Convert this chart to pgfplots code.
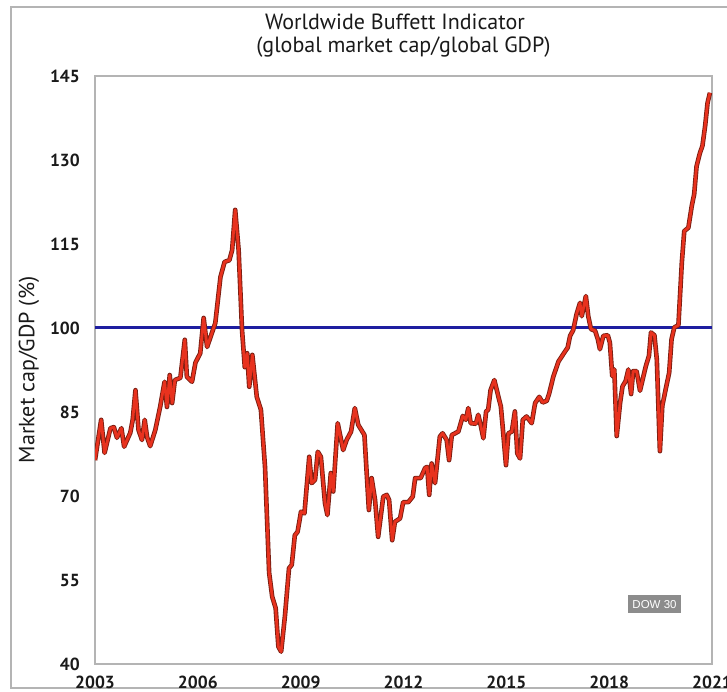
\documentclass[border=0pt]{standalone}
\usepackage{pgfplots}
\pgfplotsset{compat=1.18}
\usepackage{pgfplotstable}
\usepackage{fontspec}
\setmainfont{PT Sans}
\newfontfamily\badgefont{Liberation Sans}
\definecolor{linered}{HTML}{E8321E}
\definecolor{lineedge}{HTML}{7A1E12}
\definecolor{refblue}{HTML}{1E1EA0}
\definecolor{framegray}{HTML}{B4B4B4}
\definecolor{txt}{HTML}{1A1A1A}
\definecolor{badge}{HTML}{8C8C8C}

\pgfplotstableread{
year val
2003.00 76.4
2003.18 83.6
2003.28 77.7
2003.45 82.1
2003.55 82.3
2003.64 80.4
2003.77 82.1
2003.85 78.8
2004.03 81.3
2004.10 83.6
2004.18 88.9
2004.27 81.8
2004.37 80.0
2004.45 83.6
2004.52 80.5
2004.61 78.9
2004.76 81.8
2004.90 85.9
2005.03 90.4
2005.10 85.9
2005.18 91.6
2005.25 86.6
2005.33 90.7
2005.49 91.1
2005.62 97.9
2005.68 91.3
2005.83 90.4
2005.93 93.8
2006.07 95.5
2006.17 101.8
2006.27 96.6
2006.41 99.1
2006.51 100.9
2006.66 109.1
2006.78 111.8
2006.92 112.1
2007.00 113.9
2007.09 121.1
2007.19 113.9
2007.29 99.6
2007.37 93.0
2007.44 95.5
2007.50 89.5
2007.59 95.2
2007.72 87.7
2007.84 85.4
2007.96 75.2
2008.08 56.3
2008.17 52.0
2008.27 50.0
2008.35 43.1
2008.43 42.2
2008.54 48.5
2008.66 57.1
2008.74 57.7
2008.83 63.0
2008.91 63.6
2009.01 67.2
2009.11 66.9
2009.25 77.0
2009.32 72.3
2009.42 72.9
2009.50 77.9
2009.59 77.0
2009.71 68.7
2009.78 66.6
2009.88 74.1
2009.95 70.8
2010.08 83.0
2010.24 78.2
2010.34 80.0
2010.47 81.5
2010.58 85.7
2010.68 82.7
2010.86 80.9
2010.99 67.5
2011.07 73.2
2011.17 69.3
2011.26 62.7
2011.41 69.9
2011.51 70.2
2011.58 69.3
2011.67 62.1
2011.75 65.4
2011.90 66.0
2011.99 68.9
2012.14 68.9
2012.27 69.9
2012.34 73.2
2012.50 73.2
2012.63 75.0
2012.69 75.2
2012.75 70.2
2012.82 75.8
2012.92 72.3
2013.06 80.6
2013.14 81.2
2013.26 80.0
2013.33 76.4
2013.41 80.9
2013.60 81.5
2013.73 84.3
2013.82 83.6
2013.89 85.7
2013.96 83.0
2014.11 82.9
2014.18 84.5
2014.25 82.7
2014.33 80.3
2014.41 85.1
2014.47 85.4
2014.54 88.9
2014.65 90.7
2014.77 87.7
2014.84 86.0
2014.91 81.2
2014.99 75.5
2015.06 81.2
2015.16 81.5
2015.25 85.1
2015.32 77.6
2015.40 76.7
2015.48 83.6
2015.59 84.2
2015.74 83.0
2015.84 86.6
2015.96 87.7
2016.06 86.7
2016.18 87.0
2016.25 88.3
2016.37 91.3
2016.52 94.0
2016.69 95.6
2016.79 96.5
2016.86 98.6
2016.95 99.6
2017.05 102.5
2017.15 104.5
2017.20 102.1
2017.32 105.7
2017.39 102.1
2017.47 99.8
2017.59 99.5
2017.67 98.0
2017.73 96.2
2017.83 98.6
2017.96 98.7
2018.02 97.4
2018.09 91.4
2018.15 92.6
2018.22 80.7
2018.32 86.7
2018.39 89.6
2018.48 90.5
2018.56 92.6
2018.64 88.2
2018.70 92.3
2018.80 92.3
2018.90 88.8
2019.00 91.4
2019.07 93.2
2019.16 95.0
2019.22 99.2
2019.32 98.7
2019.39 94.4
2019.48 78.0
2019.55 86.1
2019.65 89.1
2019.75 92.0
2019.82 98.0
2019.90 100.1
2020.02 100.5
2020.12 111.7
2020.19 117.3
2020.31 117.9
2020.41 121.8
2020.48 123.9
2020.55 128.9
2020.65 131.3
2020.72 132.5
2020.80 136.1
2020.87 140.2
2020.94 142.0
}\datatable

\begin{document}
\begin{tikzpicture}
\path[use as bounding box] (0bp,0bp) rectangle (727bp,692bp);
\fill[white] (0bp,0bp) rectangle (727bp,692bp);
\draw[framegray, line width=1.2bp] (760bp,4bp) -- (11bp,4bp) -- (11bp,685bp) -- (760bp,685bp);
\begin{axis}[
  at={(95bp,28bp)}, anchor=south west,
  width=617bp, height=588bp, scale only axis,
  xmin=2003, xmax=2021, ymin=40, ymax=145,
  xtick={2003,2006,2009,2012,2015,2018,2021},
  ytick={40,55,70,85,100,115,130,145},
  major tick length=0pt,
  axis line style={framegray, line width=1.2bp},
  /pgf/number format/1000 sep={},
  /pgf/number format/assume math mode=true,
  tick label style={font=\fontsize{17.5bp}{19bp}\selectfont\bfseries, text=txt},
  xticklabel style={anchor=center, inner sep=0pt, yshift=-18bp},
  yticklabel style={anchor=east, inner sep=0pt, xshift=-15bp},
]
\addplot[refblue, line width=3bp] coordinates {(2003,100) (2021,100)};
\addplot[lineedge, line width=4.6bp, line join=round] table[x=year, y=val] {\datatable};
\addplot[linered, line width=2.8bp, line join=round] table[x=year, y=val] {\datatable};
\end{axis}
\node[text=txt, font=\fontsize{22bp}{26bp}\selectfont] at (395bp,670bp) {Worldwide Buffett Indicator};
\node[text=txt, font=\fontsize{22bp}{26bp}\selectfont] at (403.5bp,645bp) {(global market cap/global GDP)};
\node[text=txt, rotate=90, font=\fontsize{22bp}{25bp}\selectfont] at (29bp,322bp) {Market cap/GDP (\%)};
\node[fill=badge, text=white, inner sep=0pt, minimum width=53bp, minimum height=18bp, font=\badgefont\fontsize{11.5bp}{13bp}\selectfont] at (654.5bp,87.5bp) {DOW 30};
\end{tikzpicture}
\end{document}
